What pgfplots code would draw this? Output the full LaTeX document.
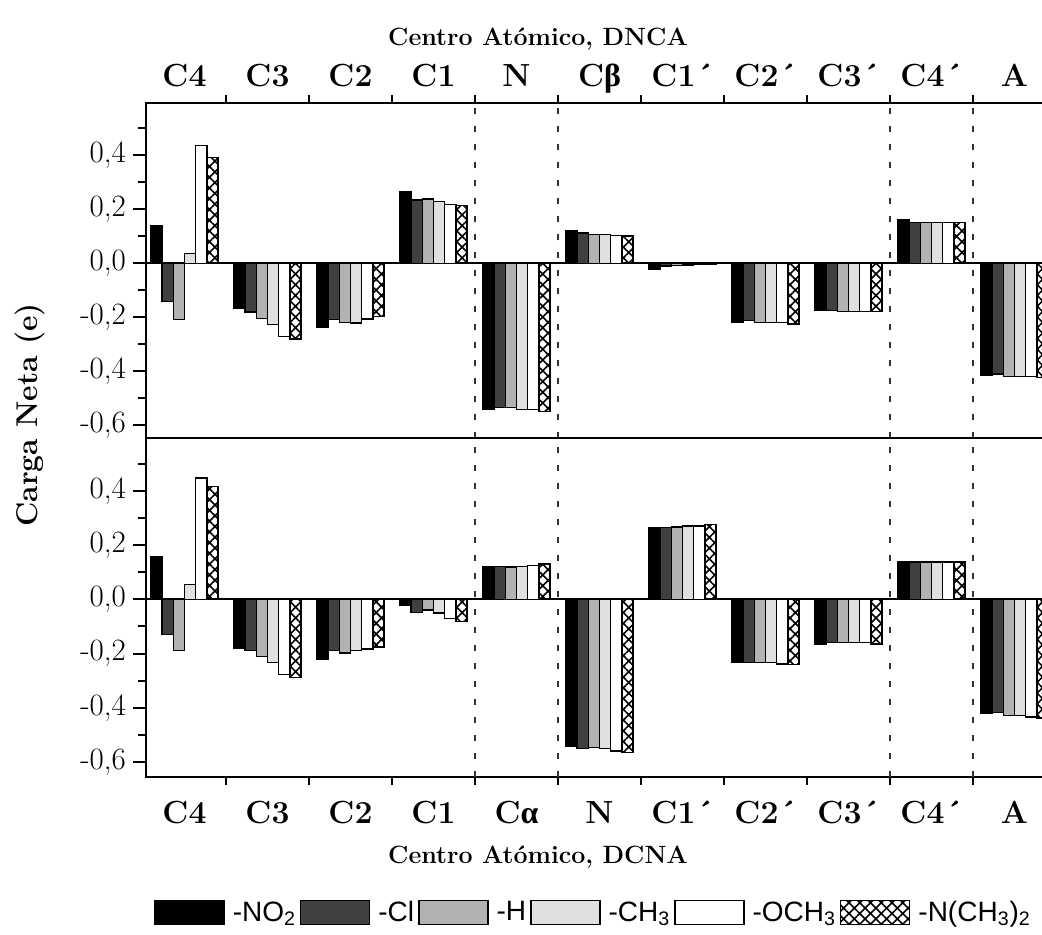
\documentclass[border=0pt]{standalone}
\usepackage{fontspec}
\usepackage{pgfplots}
\usepackage{pgfplotstable}
\pgfplotsset{compat=1.18}
\usetikzlibrary{patterns.meta}
\newfontfamily\legendfont{Liberation Sans}
\newfontfamily\greekfont{Liberation Serif}

% Centro Atomico, DNCA (top panel)
\pgfplotstableread{
x NO2 Cl H CH3 OCH3 NMe2
0  0.141 -0.141 -0.209  0.037  0.436  0.393
1 -0.168 -0.180 -0.204 -0.226 -0.270 -0.280
2 -0.235 -0.209 -0.218 -0.221 -0.206 -0.196
3  0.267  0.235  0.239  0.229  0.217  0.215
4 -0.542 -0.534 -0.534 -0.542 -0.542 -0.549
5  0.120  0.113  0.108  0.108  0.104  0.102
6 -0.022 -0.010 -0.008 -0.006 -0.005 -0.005
7 -0.218 -0.211 -0.220 -0.220 -0.220 -0.224
8 -0.175 -0.175 -0.178 -0.178 -0.178 -0.178
9  0.160  0.152  0.152  0.152  0.152  0.152
10 -0.413 -0.410 -0.418 -0.418 -0.418 -0.423
}\topdata

% Centro Atomico, DCNA (bottom panel)
\pgfplotstableread{
x NO2 Cl H CH3 OCH3 NMe2
0  0.159 -0.130 -0.188  0.056  0.449  0.418
1 -0.179 -0.188 -0.210 -0.234 -0.277 -0.289
2 -0.220 -0.188 -0.198 -0.188 -0.183 -0.176
3 -0.021 -0.049 -0.039 -0.051 -0.070 -0.082
4  0.120  0.122  0.120  0.122  0.126  0.130
5 -0.541 -0.551 -0.548 -0.551 -0.560 -0.566
6  0.266  0.266  0.268  0.271  0.271  0.276
7 -0.232 -0.234 -0.234 -0.234 -0.239 -0.241
8 -0.165 -0.160 -0.160 -0.160 -0.160 -0.165
9  0.140  0.138  0.138  0.138  0.138  0.138
10 -0.421 -0.418 -0.430 -0.430 -0.434 -0.438
}\botdata

\pgfplotsset{
  panel/.style={
    scale only axis, width=455pt,
    xmin=-0.464, xmax=10.5,
    ybar, bar width=0.135,
    axis line style={line width=1.1pt},
    ytick={-0.6,-0.4,-0.2,0,0.2,0.4},
    minor ytick={-0.5,-0.3,-0.1,0.1,0.3,0.5},
    ytick pos=left,
    tick align=outside,
    major tick length=6.5pt, minor tick length=4pt,
    every tick/.style={black, line width=1pt},
    major x tick style={draw=none},
    xtick={0,1,2,3,4,5,6,7,8,9,10},
    minor xtick={0.5,1.5,2.5,3.5,4.5,5.5,6.5,7.5,8.5,9.5},
    yticklabel style={font=\fontsize{15.5}{18}\selectfont,
      /pgf/number format/.cd, use comma, fixed, fixed zerofill, precision=1, assume math mode=true},
    xticklabel style={font=\bfseries\fontsize{16}{19}\selectfont, text height=11.5pt, text depth=3pt},
    extra y ticks={0}, extra y tick labels={},
    extra y tick style={grid=major, major grid style={black, line width=1.1pt}},
    extra x ticks={3.5,4.5,8.5,9.5}, extra x tick labels={},
    extra x tick style={grid=major, major grid style={black!80, line width=0.6pt, dash pattern=on 3pt off 6pt}},
  },
  mybar/.style={draw=black, line width=0.7pt,
    legend image code/.code={\draw[##1] (0pt,-6pt) rectangle (34.5pt,6pt);}},
  sNO2/.style={mybar, fill=black, bar shift=-0.3375},
  sCl/.style={mybar, fill=black!75, bar shift=-0.2025},
  sH/.style={mybar, fill=black!30, bar shift=-0.0675},
  sCH3/.style={mybar, fill=black!12, bar shift=0.0675},
  sOCH3/.style={mybar, fill=white, bar shift=0.2025},
  sNMe2/.style={mybar, pattern={Hatch[angle=45,distance=3.8pt,line width=0.8pt]}, bar shift=0.3375},
}

\begin{document}
\begin{tikzpicture}
\begin{axis}[panel,
  at={(73pt,-219.15pt)}, anchor=south west,
  height=167.65pt,
  ymin=-0.648, ymax=0.594,
  xtick pos=right, xticklabel pos=right,
  xticklabel style={yshift=-5pt},
  xticklabels={C4,C3,C2,C1,N,C{\greekfont β},C1´,C2´,C3´,C4´,A},
]
\addplot[sNO2] table[x=x,y=NO2] {\topdata};
\addplot[sCl] table[x=x,y=Cl] {\topdata};
\addplot[sH] table[x=x,y=H] {\topdata};
\addplot[sCH3] table[x=x,y=CH3] {\topdata};
\addplot[sOCH3] table[x=x,y=OCH3] {\topdata};
\addplot[sNMe2] table[x=x,y=NMe2] {\topdata};
\end{axis}

\begin{axis}[panel,
  at={(73pt,-219.15pt)}, anchor=north west,
  height=169.2pt,
  ymin=-0.655, ymax=0.595,
  xtick pos=left, xticklabel pos=left,
  xticklabel style={yshift=-2pt},
  xticklabels={C4,C3,C2,C1,C{\greekfont α},N,C1´,C2´,C3´,C4´,A},
  legend columns=6,
  legend style={at={(0.493,-0.402)}, anchor=center, draw=none, fill=none,
    font=\legendfont\fontsize{14}{16}\selectfont,
    /tikz/every even column/.append style={column sep=0pt},
    /tikz/every odd column/.append style={column sep=2pt}},
]
\addplot[sNO2] table[x=x,y=NO2] {\botdata};
\addplot[sCl] table[x=x,y=Cl] {\botdata};
\addplot[sH] table[x=x,y=H] {\botdata};
\addplot[sCH3] table[x=x,y=CH3] {\botdata};
\addplot[sOCH3] table[x=x,y=OCH3] {\botdata};
\addplot[sNMe2] table[x=x,y=NMe2] {\botdata};
\legend{-NO\textsubscript{2},-Cl,-H,-CH\textsubscript{3},-OCH\textsubscript{3},-N(CH\textsubscript{3})\textsubscript{2}}
\end{axis}

\node[font=\bfseries\fontsize{12.5}{15}\selectfont] at (269pt,-19.5pt) {Centro Atómico, DNCA};
\node[font=\bfseries\fontsize{12.5}{15}\selectfont] at (269pt,-428.5pt) {Centro Atómico, DCNA};
\node[rotate=90, font=\bfseries\fontsize{15}{18}\selectfont] at (15pt,-207.5pt) {Carga Neta (e)};

\pgfresetboundingbox
\path (0pt,0pt) rectangle (521pt,-467.5pt);
\end{tikzpicture}
\end{document}
